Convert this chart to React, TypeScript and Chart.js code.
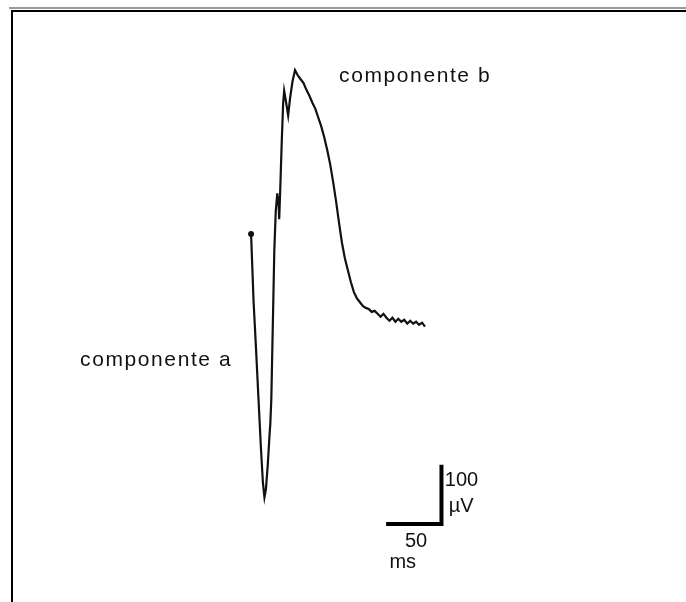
import React, { useEffect, useRef } from "react";
import { Chart, registerables } from "chart.js";

Chart.register(...registerables);

// Evoked potential trace: time (ms) and amplitude (µV)
const timeMs = [
  0, 0.9, 2.2, 4.5, 6.7, 8.9, 10.7, 12.1, 13.4, 15.2, 16.5, 17.4, 18.3, 19.2, 20.1, 21.0,
  22.3, 23.7, 25.0, 25.4, 26.3, 27.7, 29.0, 29.9, 31.7, 33.5, 35.3, 37.5, 39.7, 42.0,
  44.6, 47.3, 50.0, 52.7, 55.4, 58.0, 60.7, 63.4, 66.1, 68.8, 71.4, 74.1, 76.8, 79.5,
  82.1, 84.8, 87.5, 90.2, 92.9, 95.5, 98.2, 100.9, 103.6, 106.3, 108.9, 111.6, 114.3,
  117.0, 119.6, 122.3, 125.0, 127.7, 130.4, 133.0, 135.7, 138.4, 141.1, 143.8, 146.4,
  149.1, 151.8, 154.5, 157.1,
];
const potentialUv = [
  111.7, 66.7, 0, -83.3, -166.7, -250, -308.3, -333.3, -320, -275, -233.3, -208.3, -166.7,
  -83.3, 0, 83.3, 150, 180, 158.3, 136.7, 183.3, 266.7, 333.3, 353.3, 333.3, 311.7, 341.7,
  370, 388.3, 380, 373.3, 366.7, 355, 345, 333.3, 323.3, 308.3, 293.3, 275, 253.3, 230,
  200, 166.7, 130, 96.7, 70, 50, 30, 13.3, 3.3, -3.3, -10, -13.3, -15, -20, -18.3, -23.3,
  -28.3, -23.3, -30, -35, -30, -36.7, -31.7, -36.7, -33.3, -40, -35, -40, -36.7, -41.7,
  -38.3, -45,
];

// Calibration bar: 50 ms horizontal, 100 µV vertical
const scaleBarMs = [122, 172, 172];
const scaleBarUv = [-378.3, -378.3, -278.3];

// Text labels (anchor in data units)
const labelText = ["componente a", "componente b", "100", "µV", "50", "ms"];
const labelMs = [-154.5, 79.5, 175, 178.6, 139, 125];
const labelUv = [-111.7, 368.3, -313.3, -358.3, -416.7, -453.3];
const labelSize = [21, 21, 20, 20, 20, 20];
const labelSpacing = [1.6, 1.6, 0, 0, 0, 0];

const xRange = [-223.2, 389.3];
const yRange = [-503.3, 500];

export default function App() {
  const ref = useRef<HTMLCanvasElement | null>(null);

  useEffect(() => {
    if (!ref.current) return;

    const framePlugin = {
      id: "frame",
      beforeDraw(chart: any) {
        const c = chart.ctx;
        c.save();
        c.fillStyle = "#ffffff";
        c.fillRect(0, 0, chart.width, chart.height);
        c.fillStyle = "#9a9a9a";
        c.fillRect(9, 7, chart.width - 9, 2);
        c.fillStyle = "#000000";
        c.fillRect(11, 10, chart.width - 11, 2);
        c.fillRect(11, 10, 2, chart.height - 10);
        c.restore();
      },
    };

    const textPlugin = {
      id: "labels",
      afterDatasetsDraw(chart: any) {
        const c = chart.ctx;
        const xs = chart.scales.x;
        const ys = chart.scales.y;
        c.save();
        c.fillStyle = "#111111";
        c.textAlign = "left";
        c.textBaseline = "alphabetic";
        labelText.forEach((t, i) => {
          c.font = `${labelSize[i]}px "Liberation Sans", Arial, sans-serif`;
          (c as any).letterSpacing = `${labelSpacing[i]}px`;
          c.fillText(t, xs.getPixelForValue(labelMs[i]), ys.getPixelForValue(labelUv[i]));
        });
        (c as any).letterSpacing = "0px";
        c.restore();
      },
    };

    const trace = timeMs.map((t, i) => ({ x: t, y: potentialUv[i] }));
    const bar = scaleBarMs.map((t, i) => ({ x: t, y: scaleBarUv[i] }));

    const chart = new Chart(ref.current, {
      type: "line",
      data: {
        datasets: [
          {
            data: trace,
            borderColor: "#111111",
            borderWidth: 2.2,
            tension: 0,
            pointRadius: trace.map((_, i) => (i === 0 ? 3 : 0)),
            pointBackgroundColor: "#111111",
            pointBorderWidth: 0,
            fill: false,
          },
          {
            data: bar,
            borderColor: "#000000",
            borderWidth: 4,
            borderCapStyle: "butt",
            borderJoinStyle: "miter",
            tension: 0,
            pointRadius: 0,
            fill: false,
          },
        ],
      },
      options: {
        animation: false,
        responsive: false,
        devicePixelRatio: 1,
        layout: { padding: 0 },
        plugins: {
          legend: { display: false },
          title: { display: false },
          tooltip: { enabled: false },
        },
        scales: {
          x: { type: "linear", min: xRange[0], max: xRange[1], display: false },
          y: { type: "linear", min: yRange[0], max: yRange[1], display: false },
        },
      },
      plugins: [framePlugin, textPlugin],
    });

    return () => chart.destroy();
  }, []);

  return (
    <div style={{ position: "absolute", left: 0, top: 0, width: 686, height: 602, background: "#fff" }}>
      <canvas ref={ref} width={686} height={602} style={{ display: "block" }} />
    </div>
  );
}
